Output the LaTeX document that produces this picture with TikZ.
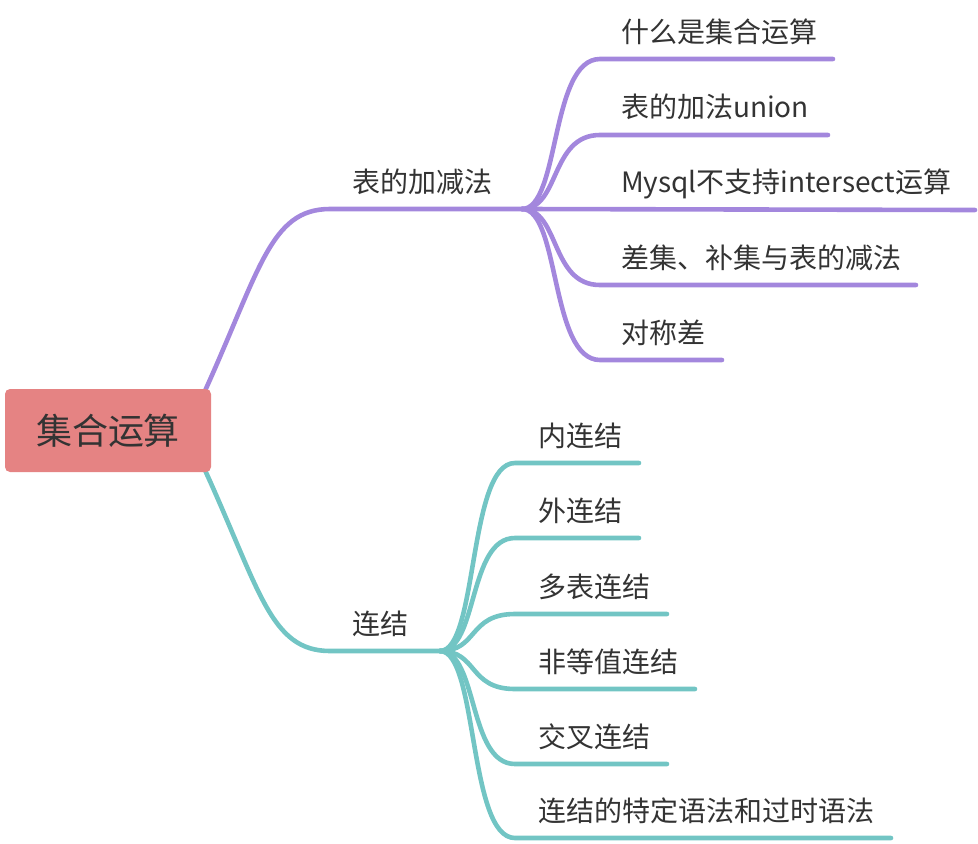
\documentclass[tikz,border=0pt]{standalone}
\usepackage{fontspec}
\setmainfont{Noto Sans CJK SC}
\usetikzlibrary{backgrounds}
\definecolor{rootred}{HTML}{E58383}
\definecolor{setpurple}{HTML}{A387DD}
\definecolor{jointeal}{HTML}{72C5C4}
\definecolor{inkgray}{HTML}{333333}
\tikzstyle{root_topic} =
  [ rectangle
  , rounded corners=5pt
  , fill=rootred
  , text=inkgray
  , minimum width=206pt
  , minimum height=83pt
  , font=\fontsize{36}{40}\selectfont
  ]
\tikzstyle{topic_label} =
  [ anchor=base west
  , inner sep=0pt
  , text=inkgray
  , font=\fontsize{28}{32}\selectfont
  ]
\tikzstyle{purple_branch} =
  [ draw=setpurple
  , line width=4.6pt
  , line cap=round
  ]
\tikzstyle{teal_branch} =
  [ draw=jointeal
  , line width=4.6pt
  , line cap=round
  ]

\begin{document}
\begin{tikzpicture}[x=1pt,y=-1pt]
    \useasboundingbox (0,0) rectangle (978,844);
    \node[root_topic] (root) at (108,430.5) {集合运算};

    % 表的加减法
    \node[topic_label] (set_ops) at (352,192) {表的加减法};
    \coordinate (set_ops_start) at (330,209);
    \coordinate (set_ops_fork)  at (522,209);
    \node[topic_label] (what_is)   at (621,42)  {什么是集合运算};
    \node[topic_label] (union)     at (621,117) {表的加法union};
    \node[topic_label] (intersect) at (621,192) {Mysql不支持intersect运算};
    \node[topic_label] (except)    at (621,268) {差集、补集与表的减法};
    \node[topic_label] (sym_diff)  at (621,343) {对称差};
    \coordinate (what_is_end)   at (833,59);
    \coordinate (union_end)     at (828,135);
    \coordinate (intersect_end) at (975,210);
    \coordinate (except_end)    at (916,285);
    \coordinate (sym_diff_end)  at (722,360);

    % 连结
    \node[topic_label] (joins) at (352,634) {连结};
    \coordinate (joins_start) at (330,651);
    \coordinate (joins_fork)  at (440,651);
    \node[topic_label] (inner_join) at (538,446) {内连结};
    \node[topic_label] (outer_join) at (538,521) {外连结};
    \node[topic_label] (multi_join) at (538,597) {多表连结};
    \node[topic_label] (non_equi)   at (538,672) {非等值连结};
    \node[topic_label] (cross_join) at (538,747) {交叉连结};
    \node[topic_label] (old_syntax) at (538,821) {连结的特定语法和过时语法};
    \coordinate (inner_join_end) at (639,463);
    \coordinate (outer_join_end) at (639,538);
    \coordinate (multi_join_end) at (667,614);
    \coordinate (non_equi_end)   at (695,689);
    \coordinate (cross_join_end) at (667,764);
    \coordinate (old_syntax_end) at (891,838);

    \begin{scope}[on background layer]
      \draw[purple_branch] ([shift={(-8,6)}]root.north east) .. controls (260,270) and (270,209) .. (set_ops_start) -- (set_ops_fork);
      \draw[purple_branch] (set_ops_fork) .. controls (560,209) and (550,59)  .. (600,59)  -- (what_is_end);
      \draw[purple_branch] (set_ops_fork) .. controls (560,209) and (550,135) .. (600,135) -- (union_end);
      \draw[purple_branch] (set_ops_fork) -- (intersect_end);
      \draw[purple_branch] (set_ops_fork) .. controls (560,209) and (550,285) .. (600,285) -- (except_end);
      \draw[purple_branch] (set_ops_fork) .. controls (560,209) and (550,360) .. (600,360) -- (sym_diff_end);

      \draw[teal_branch] ([shift={(-8,-6)}]root.south east) .. controls (260,590) and (270,651) .. (joins_start) -- (joins_fork);
      \draw[teal_branch] (joins_fork) .. controls (478,651) and (468,463) .. (515,463) -- (inner_join_end);
      \draw[teal_branch] (joins_fork) .. controls (478,651) and (468,538) .. (515,538) -- (outer_join_end);
      \draw[teal_branch] (joins_fork) .. controls (478,651) and (468,614) .. (515,614) -- (multi_join_end);
      \draw[teal_branch] (joins_fork) .. controls (478,651) and (468,689) .. (515,689) -- (non_equi_end);
      \draw[teal_branch] (joins_fork) .. controls (478,651) and (468,764) .. (515,764) -- (cross_join_end);
      \draw[teal_branch] (joins_fork) .. controls (478,651) and (468,838) .. (515,838) -- (old_syntax_end);
    \end{scope}
\end{tikzpicture}
\end{document}
